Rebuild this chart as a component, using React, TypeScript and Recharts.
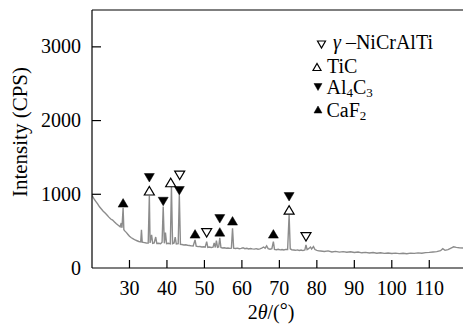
import {
  ComposedChart,
  Line,
  Scatter,
  XAxis,
  YAxis,
  ReferenceLine,
} from 'recharts';

// XRD scan: [2θ, intensity]
const scan: [number, number][] = [
  [20, 985], [20.5, 940], [21, 905], [21.5, 870], [22, 830], [22.5, 800], [23, 770],
  [23.5, 745], [24, 720], [24.5, 690], [25, 665], [25.5, 650], [26, 625], [26.5, 600],
  [27, 580], [27.5, 560], [27.8, 610], [28.0, 545], [28.3, 816], [28.5, 520], [28.8, 500],
  [29.2, 480], [29.6, 455], [30, 430], [30.5, 410], [31, 395], [31.5, 380], [32, 370],
  [32.5, 360], [33, 355], [33.2, 517], [33.4, 350], [34, 345], [34.5, 340], [35, 338],
  [35.3, 980], [35.5, 340], [35.9, 450], [36.2, 335], [36.6, 340], [37, 420], [37.3, 332],
  [37.8, 336], [38.3, 330], [38.7, 350], [39.0, 834], [39.3, 335], [39.6, 480], [39.9, 330],
  [40.4, 335], [40.9, 328], [41.2, 1106], [41.5, 330], [41.9, 340], [42.2, 420], [42.5, 325],
  [43.0, 330], [43.3, 993], [43.6, 320], [44, 318], [44.5, 312], [45, 315], [45.5, 308],
  [46, 305], [46.5, 300], [47, 298], [47.5, 381], [47.8, 296], [48.3, 290], [48.8, 292],
  [49.3, 285], [49.8, 288], [50.2, 282], [50.6, 358], [50.9, 280], [51.3, 285], [51.8, 278],
  [52.3, 282], [52.6, 340], [52.9, 278], [53.2, 370], [53.5, 280], [53.8, 285], [54.1, 408],
  [54.4, 278], [54.8, 272], [55.3, 275], [55.8, 268], [56.3, 272], [56.8, 266], [57.2, 270],
  [57.5, 540], [57.8, 268], [58.3, 265], [58.8, 270], [59.3, 262], [59.8, 266], [60.3, 275],
  [60.8, 262], [61.3, 268], [61.8, 258], [62.3, 265], [62.8, 260], [63.3, 256], [63.8, 262],
  [64.3, 255], [64.8, 260], [65.3, 270], [65.8, 285], [66.2, 268], [66.6, 300], [67.0, 262],
  [67.5, 255], [68.0, 262], [68.4, 358], [68.7, 252], [69.2, 248], [69.7, 254], [70.2, 246],
  [70.7, 250], [71.2, 244], [71.7, 252], [72.2, 250], [72.6, 721], [72.9, 260], [73.3, 248],
  [73.8, 244], [74.3, 240], [74.8, 246], [75.3, 238], [75.8, 244], [76.3, 236], [76.8, 245],
  [77.1, 313], [77.4, 250], [77.8, 262], [78.3, 285], [78.6, 258], [79.1, 290], [79.5, 250],
  [80, 240], [80.5, 232], [81, 230], [82, 224], [83, 232], [84, 218], [85, 226], [86, 215],
  [87, 222], [88, 214], [89, 220], [90, 210], [91, 216], [92, 206], [93, 212], [94, 204],
  [95, 210], [96, 200], [97, 206], [98, 198], [99, 204], [100, 196], [101, 202], [102, 195],
  [103, 200], [104, 194], [105, 202], [106, 198], [107, 205], [108, 200], [109, 208],
  [110, 212], [111, 218], [112, 222], [113, 235], [113.6, 262], [114.2, 240], [115, 250],
  [115.8, 270], [116.5, 288], [117.2, 280], [118, 275], [119, 272],
];

// phase markers: [2θ, marker height]
const nicraltiMarks: [number, number][] = [[43.4, 1256], [50.6, 476], [77.1, 422]];
const ticMarks: [number, number][] = [[35.3, 1048], [41.0, 1160], [72.6, 789]];
const al4c3Marks: [number, number][] = [[35.3, 1224], [39.0, 902], [43.3, 1048], [54.1, 667], [72.6, 966]];
const caf2Marks: [number, number][] = [[28.3, 884], [47.5, 463], [54.1, 490], [57.5, 640], [68.4, 463]];

const xTicks = [30, 40, 50, 60, 70, 80, 90, 100, 110];
const yTicks = [0, 1000, 2000, 3000];

const toRows = (arr: [number, number][]) => arr.map(([t, i]) => ({ t, i }));

const FONT = '"Liberation Serif", "Times New Roman", serif';
const serif = { fontFamily: FONT };

type Kind = 'down-open' | 'up-open' | 'down' | 'up';

function tri(kind: Kind, cx: number, cy: number, w: number, h: number) {
  const up = kind === 'up' || kind === 'up-open';
  const open = kind === 'up-open' || kind === 'down-open';
  const pts = up
    ? `${cx - w / 2},${cy + h / 2} ${cx + w / 2},${cy + h / 2} ${cx},${cy - h / 2}`
    : `${cx - w / 2},${cy - h / 2} ${cx + w / 2},${cy - h / 2} ${cx},${cy + h / 2}`;
  return (
    <polygon
      points={pts}
      fill={open ? '#fff' : '#000'}
      stroke="#000"
      strokeWidth={open ? 1.2 : 0.5}
      strokeLinejoin="miter"
    />
  );
}

const markerShape = (kind: Kind) => (props: any) => tri(kind, props.cx, props.cy, 10, 8.5);

const XTick = ({ x, y, payload }: any) => (
  <g>
    <line x1={x} x2={x} y1={y} y2={y - 8} stroke="#000" strokeWidth={1.2} />
    <text x={x} y={y + 27} textAnchor="middle" fontSize={20} fill="#000" style={serif}>
      {payload.value}
    </text>
  </g>
);

const YTick = ({ x, y, payload }: any) => (
  <g>
    {payload.value !== 0 && <line x1={x} x2={x + 9} y1={y} y2={y} stroke="#000" strokeWidth={1.2} />}
    <text x={x - 11} y={y + 6.5} textAnchor="end" fontSize={20} fill="#000" style={serif}>
      {payload.value}
    </text>
  </g>
);

export default function App() {
  return (
    <div style={{ position: 'relative', width: 463, height: 326, background: '#fff', fontFamily: FONT }}>
      <style>{'body{margin:0}'}</style>
      <ComposedChart
        width={463}
        height={326}
        margin={{ top: 10, right: 0, left: 0, bottom: 0 }}
        style={serif}
      >
        <XAxis
          dataKey="t"
          type="number"
          domain={[20, 119]}
          ticks={xTicks}
          allowDataOverflow
          height={58}
          tickSize={0}
          tickMargin={0}
          tickLine={false}
          tick={<XTick />}
          axisLine={{ stroke: '#000', strokeWidth: 1.2 }}
        />
        <YAxis
          dataKey="i"
          type="number"
          domain={[0, 3500]}
          ticks={yTicks}
          allowDataOverflow
          width={92}
          tickSize={0}
          tickMargin={0}
          tickLine={false}
          tick={<YTick />}
          axisLine={{ stroke: '#000', strokeWidth: 1.2 }}
        />
        <ReferenceLine y={3500} stroke="#000" strokeWidth={1.2} ifOverflow="visible" />
        <Line
          data={toRows(scan)}
          dataKey="i"
          type="linear"
          stroke="#8c8c8c"
          strokeWidth={1.4}
          dot={false}
          isAnimationActive={false}
        />
        <Scatter data={toRows(nicraltiMarks)} dataKey="i" shape={markerShape('down-open')} isAnimationActive={false} />
        <Scatter data={toRows(ticMarks)} dataKey="i" shape={markerShape('up-open')} isAnimationActive={false} />
        <Scatter data={toRows(al4c3Marks)} dataKey="i" shape={markerShape('down')} isAnimationActive={false} />
        <Scatter data={toRows(caf2Marks)} dataKey="i" shape={markerShape('up')} isAnimationActive={false} />
      </ComposedChart>

      {/* labels and legend */}
      <svg
        width={463}
        height={326}
        style={{ position: 'absolute', left: 0, top: 0, pointerEvents: 'none', fontFamily: FONT }}
        fill="#000"
      >
        <text transform="translate(27,132) rotate(-90)" textAnchor="middle" fontSize={21}>
          Intensity (CPS)
        </text>
        <text x={271} y={319} textAnchor="middle" fontSize={20}>
          2<tspan fontStyle="italic">θ</tspan>/(<tspan dy={-2}>°</tspan><tspan dy={2}>)</tspan>
        </text>

        {tri('down-open', 321.5, 44.5, 8, 7)}
        <text x={333} y={49} fontSize={20}>
          <tspan fontStyle="italic">γ</tspan> –NiCrAlTi
        </text>
        {tri('up-open', 317, 67, 8, 7)}
        <text x={327} y={72.5} fontSize={20}>TiC</text>
        {tri('down', 318, 87, 8, 7)}
        <text x={326.5} y={93.5} fontSize={20}>
          Al<tspan fontSize={13} dy={3}>4</tspan>
          <tspan dy={-3}>C</tspan>
          <tspan fontSize={13} dy={3}>3</tspan>
        </text>
        {tri('up', 318, 109.5, 8, 7)}
        <text x={326.5} y={116.5} fontSize={20}>
          CaF<tspan fontSize={13} dy={3}>2</tspan>
        </text>
      </svg>
    </div>
  );
}
